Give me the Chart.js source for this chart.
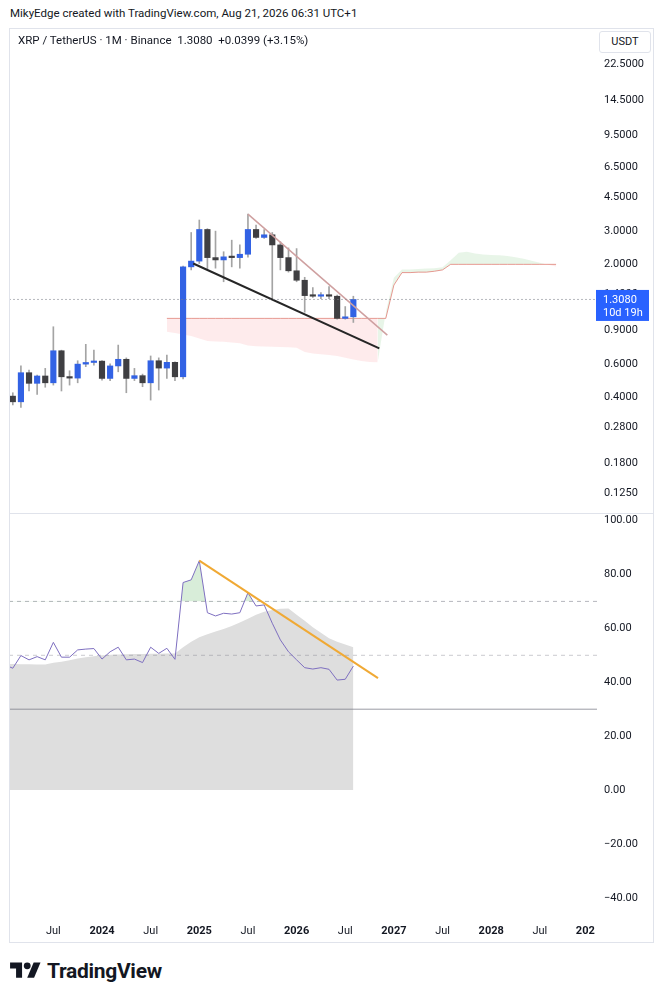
<!DOCTYPE html>
<html><head><meta charset="utf-8">
<script src="https://cdn.jsdelivr.net/npm/chart.js@4.4.1/dist/chart.umd.min.js"></script>
<style>
html,body{margin:0;padding:0;background:#fff;}
body{width:663px;height:1000px;position:relative;overflow:hidden;font-family:Roboto,"Noto Sans",Arial,sans-serif;color:#131722;}
.abs{position:absolute;}
#hdr{left:10px;top:6px;font-size:11.5px;white-space:nowrap;}
#frame{left:9px;top:28px;width:643px;height:913px;border:1px solid #e0e3eb;pointer-events:none;z-index:5;}
#sep{left:9px;top:513px;width:645px;height:1px;background:#e0e3eb;z-index:5;}
#sym{left:18px;top:33px;font-size:11.5px;white-space:nowrap;z-index:6;}
#usdt{left:599px;top:31px;width:50px;height:20px;border:1px solid #e0e3eb;border-radius:3px;font-size:11px;line-height:20px;text-align:center;background:#fff;z-index:6;}
#w1{left:9px;top:29px;width:644px;height:484px;}
#w2{left:9px;top:513px;width:644px;height:429px;}
#logo{left:10px;top:959px;display:flex;align-items:center;gap:6px;}
#logo span{font-size:21px;font-weight:700;letter-spacing:-0.3px;color:#131722;}
</style></head>
<body>
<div id="hdr" class="abs">MikyEdge created with TradingView.com, Aug 21, 2026 06:31 UTC+1</div>
<div id="w1" class="abs"><canvas id="c1"></canvas></div>
<div id="w2" class="abs"><canvas id="c2"></canvas></div>
<div id="frame" class="abs"></div>
<div id="sep" class="abs"></div>
<div id="sym" class="abs">XRP / TetherUS · 1M · Binance&nbsp; 1.3080&nbsp; +0.0399 (+3.15%)</div>
<div id="usdt" class="abs">USDT</div>
<div id="logo" class="abs">
<svg width="31" height="24" viewBox="0 0 36 28"><path fill="#131722" d="M14 22H7V11H0V4h14v18z"/><circle fill="#131722" cx="20" cy="8" r="4"/><path fill="#131722" d="M28 22h-8l7.5-18h8L28 22z"/></svg>
<span>TradingView</span>
</div>
<script>
// month index: 0 = Jan 2024
const candleStartIndex = -11; // Feb 2023
const opens  = [0.406,0.379,0.539,0.474,0.518,0.477,0.703,0.513,0.505,0.598,0.610,0.620,0.503,0.585,0.634,0.503,0.520,0.477,0.623,0.570,0.611,0.513,1.94,2.08,3.05,2.17,2.11,2.19,2.17,2.26,3.05,2.77,2.86,2.53,2.17,1.85,1.65,1.37,1.36,1.38,1.36,1.04,1.06];
const highs  = [0.423,0.586,0.557,0.524,0.568,0.94,0.708,0.552,0.623,0.76,0.708,0.625,0.60,0.753,0.645,0.568,0.53,0.66,0.645,0.667,0.615,1.96,2.94,3.42,3.08,2.99,2.33,2.68,2.53,3.67,3.22,3.05,2.94,2.63,2.44,2.42,1.71,1.51,1.42,1.53,1.38,1.20,1.36];
const lows   = [0.365,0.354,0.433,0.415,0.452,0.464,0.432,0.464,0.477,0.58,0.59,0.493,0.49,0.545,0.423,0.49,0.455,0.387,0.437,0.503,0.49,0.50,1.87,2.02,1.90,1.91,1.62,1.94,1.91,2.18,2.74,2.74,1.31,1.87,1.82,1.62,1.12,1.34,1.32,1.32,1.03,1.03,0.99];
const closes = [0.379,0.539,0.474,0.518,0.477,0.703,0.513,0.505,0.598,0.610,0.620,0.503,0.585,0.634,0.503,0.520,0.477,0.623,0.570,0.611,0.513,1.94,2.08,3.05,2.17,2.11,2.19,2.17,2.26,3.05,2.77,2.86,2.53,2.17,1.85,1.65,1.37,1.36,1.38,1.36,1.04,1.06,1.308];

const cloudStartIndex = 8; // Sep 2024
const spanA = [0.885,0.871,0.855,0.840, 0.815,0.791,0.786,0.784,0.776,0.769,0.749,0.742,0.740,0.738,0.735,0.733, 0.729,0.692,0.680,0.673,0.667,0.659,0.646,0.632,0.621,0.614,0.611,1.12, 1.70,1.88,1.88,1.89,1.90,1.91,1.93,2.10,2.30,2.33,2.28,2.25, 2.24,2.23,2.21,2.18,2.14,2.09,2.04,1.99,1.95];
const spanB = [1.04,1.04,1.04,1.04, 1.04,1.04,1.04,1.04,1.04,1.04,1.04,1.04,1.04,1.04,1.04,1.04, 1.04,1.04,1.04,1.04,1.04,1.04,1.04,1.04,1.04,1.04,1.04,1.04, 1.556,1.81,1.81,1.82,1.82,1.84,1.87,2.00,2.00,2.00,2.00,2.00, 2.00,2.00,2.00,2.00,2.00,2.00,2.00,2.00,2.00];

const upperTrend = [{m:18, v:3.67},{m:35.19, v:0.85}];
const lowerTrend = [{m:11.25, v:2.02},{m:34.2, v:0.724}];
const lastPrice = 1.308;
const priceCountdown = '10d 19h';
const priceTicks = [22.5,14.5,9.5,6.5,4.5,3,2,1.4,0.9,0.6,0.4,0.28,0.18,0.125];

const rsiStartIndex = -12; // Jan 2023
const rsiValues = [46.5,45.2,49.9,48.3,49.5,48.3,54.8,49.3,49.3,52.0,52.3,52.5, 48.6,51.3,53.0,48.3,48.6,47.3,53.0,50.7,52.6,48.5,77.0,78.0, 85.1,65.8,64.6,65.6,65.3,65.8,73.2,68.3,68.7,61.9,55.7,51.3, 48.3,45.4,44.9,45.4,44.8,40.8,41.1,46.0];
const rsiMA = [46.8,46.8,46.7,46.7,46.6,46.6,47.2,47.6,48.2,48.8,49.3,49.6, 50.0,50.2,50.3,50.4,50.5,50.5,50.6,50.6,50.7,50.7,53.0,55.0, 56.7,57.8,58.8,59.8,60.9,62.2,63.6,65.0,66.2,66.8,67.3,67.4, 65.0,62.8,60.4,58.4,56.3,55.0,54.0,53.0];
const rsiTrend = [{m:12, v:85.1},{m:34.04, v:41.5}];
const rsiBands = [70, 50, 30];
const rsiTicks = [100,80,60,40,20,0,-20,-40];
const timeTicks = [-6,0,6,12,18,24,30,36,42,48,54,60];

// view
const X_MIN = -11.47, X_MAX = 61.05;
const P_MIN = 0.0987, P_MAX = 34.5;
const R_MIN = -46.0, R_MAX = 102.8;

const UP = '#3262e4', DOWN = '#3f3f42', WICK = '#a4a4a4';
const CLOUD_GREEN = 'rgba(76,175,80,0.13)', CLOUD_RED = 'rgba(242,54,69,0.10)';

Chart.defaults.font.family = 'Roboto, "Noto Sans", Arial, sans-serif';
Chart.defaults.font.size = 11;
Chart.defaults.color = '#131722';

const cx = i => candleStartIndex + i;
const wickData = opens.map((o,i)=>({x:cx(i), y:[lows[i], highs[i]]}));
const bodyData = opens.map((o,i)=>({x:cx(i), y:[o, closes[i]]}));
const bodyColors = opens.map((o,i)=> closes[i] >= o ? UP : DOWN);
const cloudPts = arr => arr.map((v,i)=>({x:cloudStartIndex+i, y:v}));
const spanAPts = cloudPts(spanA), spanBPts = cloudPts(spanB);
const bearEnd = spanA.findIndex((a,i)=> a > spanB[i]); // first bullish bar
const spanABear = spanAPts.slice(0, bearEnd);
const spanABridge = spanAPts.slice(bearEnd-1, bearEnd+1);
const spanABull = spanAPts.slice(bearEnd);

const lineBase = {type:'line', pointRadius:0, pointHoverRadius:0, tension:0};

const pricePlugin = {
  id:'priceTag',
  afterDraw(chart){
    const ctx = chart.ctx, ca = chart.chartArea;
    const y = chart.scales.y.getPixelForValue(lastPrice);
    const x0 = ca.right - 1;
    ctx.save();
    ctx.fillStyle = '#2962ff';
    ctx.fillRect(x0, y-9.5, 53, 31);
    ctx.fillStyle = '#fff';
    ctx.font = '11px Roboto, "Noto Sans", sans-serif';
    ctx.textAlign = 'left'; ctx.textBaseline = 'middle';
    ctx.fillText(lastPrice.toFixed(4), x0+7, y+0.5);
    ctx.fillText(priceCountdown, x0+7, y+14);
    ctx.restore();
  }
};

new Chart(document.getElementById('c1'), {
  type:'bar',
  data:{datasets:[
    {...lineBase, data:spanBPts, borderColor:'rgba(221,120,110,0.75)', borderWidth:1, fill:false, order:4},
    {...lineBase, data:spanABear, borderWidth:0, borderColor:'rgba(0,0,0,0)', backgroundColor:CLOUD_RED, fill:{target:0, above:CLOUD_RED, below:CLOUD_RED}, order:5},
    {...lineBase, data:spanABridge, borderWidth:0, borderColor:'rgba(0,0,0,0)', backgroundColor:CLOUD_GREEN, fill:{target:0, above:CLOUD_GREEN, below:CLOUD_GREEN}, order:6},
    {...lineBase, data:spanABull, borderWidth:0, borderColor:'rgba(0,0,0,0)', backgroundColor:CLOUD_GREEN, fill:{target:0, above:CLOUD_GREEN, below:CLOUD_RED}, order:7},
    {type:'bar', data:wickData, backgroundColor:WICK, barThickness:1, grouped:false, order:3},
    {type:'bar', data:bodyData, backgroundColor:bodyColors, barThickness:5.5, minBarLength:1.5, grouped:false, order:2},
    {...lineBase, data:upperTrend.map(p=>({x:p.m, y:p.v})), borderColor:'#cfa0a0', borderWidth:1.5, fill:false, order:1},
    {...lineBase, data:lowerTrend.map(p=>({x:p.m, y:p.v})), borderColor:'#262626', borderWidth:2, fill:false, order:1},
    {...lineBase, data:[{x:X_MIN,y:lastPrice},{x:X_MAX,y:lastPrice}], borderColor:'rgba(120,123,134,0.55)', borderWidth:1, borderDash:[2,2], fill:false, order:0}
  ]},
  options:{
    responsive:true, maintainAspectRatio:false, animation:false,
    layout:{padding:0},
    plugins:{legend:{display:false}, tooltip:{enabled:false}},
    scales:{
      x:{type:'linear', min:X_MIN, max:X_MAX, display:false, offset:false, grid:{offset:false}},
      y:{type:'logarithmic', position:'right', min:P_MIN, max:P_MAX,
        grid:{display:false, drawTicks:false}, border:{display:false},
        ticks:{padding:7, autoSkip:false, color:'#131722', font:{size:11}, callback:v=>Number(v).toFixed(4)},
        afterBuildTicks:s=>{s.ticks = priceTicks.map(v=>({value:v}));},
        afterFit:s=>{s.width = 56; s.paddingTop = 0; s.paddingBottom = 0;}
      }
    }
  },
  plugins:[pricePlugin]
});

const cornerPlugin = {
  id:'corner',
  afterDraw(chart){
    const ctx = chart.ctx, ca = chart.chartArea;
    ctx.save(); ctx.fillStyle = '#fff';
    ctx.fillRect(ca.right - 2, ca.bottom, chart.width - ca.right + 2, chart.height - ca.bottom);
    ctx.restore();
  }
};

const bandStyles = [
  {c:'rgba(120,123,134,0.55)', d:[4,4]},
  {c:'rgba(120,123,134,0.40)', d:[4,4]},
  {c:'rgba(120,123,134,0.75)', d:[]}
];

new Chart(document.getElementById('c2'), {
  type:'line',
  data:{datasets:[
    {...lineBase, data:rsiMA.map((v,i)=>({x:rsiStartIndex+i, y:v})), borderWidth:0, borderColor:'rgba(0,0,0,0)', backgroundColor:'#dedede', fill:'origin', order:5},
    ...rsiBands.map((b,k)=>({...lineBase, data:[{x:X_MIN,y:b},{x:X_MAX,y:b}], borderColor:bandStyles[k].c, borderDash:bandStyles[k].d, borderWidth:1, fill:false, order:3})),
    {...lineBase, data:rsiValues.map((v,i)=>({x:rsiStartIndex+i, y:v})), borderColor:'#7e6fc0', borderWidth:1, fill:{target:{value:70}, above:'rgba(76,175,80,0.22)', below:'rgba(0,0,0,0)'}, order:1},
    {...lineBase, data:rsiTrend.map(p=>({x:p.m, y:p.v})), borderColor:'#f0a934', borderWidth:2, fill:false, order:0}
  ]},
  options:{
    responsive:true, maintainAspectRatio:false, animation:false,
    layout:{padding:0},
    plugins:{legend:{display:false}, tooltip:{enabled:false}},
    scales:{
      x:{type:'linear', min:X_MIN, max:X_MAX, position:'bottom', offset:false,
        grid:{display:false, drawTicks:false}, border:{display:false},
        ticks:{padding:11, autoSkip:false, maxRotation:0, color:'#131722',
          font:ctx=>({size:11, weight:(ctx.tick && ctx.tick.value % 12 === 0) ? 'bold' : 'normal'}),
          callback:v=> (v % 12 === 0) ? String(2024 + v/12) : 'Jul'},
        afterBuildTicks:s=>{s.ticks = timeTicks.map(v=>({value:v}));},
        afterFit:s=>{s.height = 28; s.paddingLeft = 0; s.paddingRight = 0;}
      },
      y:{type:'linear', position:'right', min:R_MIN, max:R_MAX,
        grid:{display:false, drawTicks:false}, border:{display:false},
        ticks:{padding:7, autoSkip:false, color:'#131722', font:{size:11},
          callback:v=> v < 0 ? '\u2212' + Math.abs(v).toFixed(2) : Number(v).toFixed(2)},
        afterBuildTicks:s=>{s.ticks = rsiTicks.map(v=>({value:v}));},
        afterFit:s=>{s.width = 56; s.paddingTop = 0; s.paddingBottom = 0;}
      }
    }
  },
  plugins:[cornerPlugin]
});
</script>
</body></html>
